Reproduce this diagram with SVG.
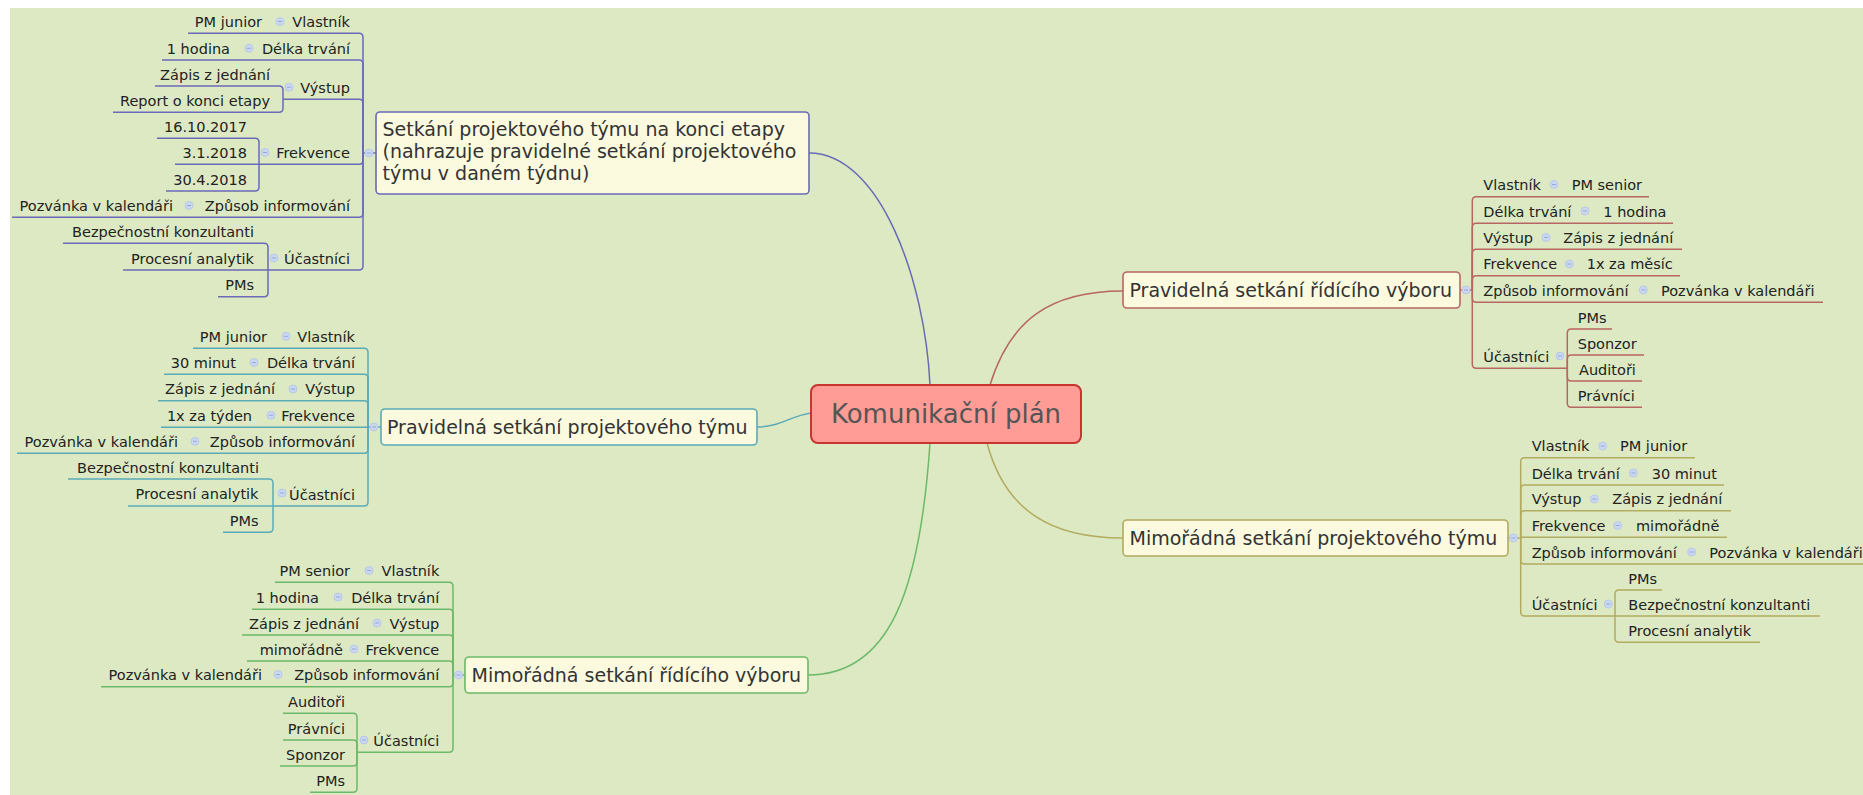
<svg xmlns="http://www.w3.org/2000/svg" width="1863" height="795" viewBox="0 0 1863 795">
  <style>
    text { font-family: "DejaVu Sans", Verdana, sans-serif; }
    .leaf { font-size: 14.5px; fill: #222; }
    .e { text-anchor: end; }
    .ttl { font-size: 19px; fill: #333; }
    .root { font-size: 26px; fill: #555; text-anchor: middle; }
    .box { fill: #fbfadf; stroke-width: 1.6; }
    .ln { fill: none; stroke-width: 1.5; }
    .blue { stroke: #6a6ab6; }
    .teal { stroke: #5aabb8; }
    .green { stroke: #6cb96a; }
    .red { stroke: #b86662; }
    .olive { stroke: #b3ab5f; }
  </style>
  <defs>
    <!-- collapse toggle shown next to every expanded item -->
    <g id="tog">
      <circle r="4" fill="#cbd7f1" stroke="#b2c3e8" stroke-width="0.8"/>
      <path d="M-2,0H2" stroke="#94a8d8" stroke-width="1"/>
    </g>
  </defs>

  <rect x="0" y="0" width="1863" height="795" fill="#ffffff"/>
  <rect x="10" y="8" width="1853" height="787" fill="#dce9c3"/>

  <g id="connectors">
    <!-- root to main topics -->
    <path class="ln blue" stroke-width="1.8" d="M930,385 C925,280 880,153 809,153"/>
    <path class="ln teal" stroke-width="1.8" d="M811,413 C790,416 780,427 757,427"/>
    <path class="ln green" stroke-width="1.8" d="M930,443 C920,590 890,675 808,675"/>
    <path class="ln red" stroke-width="1.8" d="M990,385 C1010,320 1050,291 1123,291"/>
    <path class="ln olive" stroke-width="1.8" d="M987,443 C1005,510 1050,538 1123,538"/>

    <!-- topic 1 tree -->
    <g class="ln blue">
      <path d="M376,153 H363"/>
      <path d="M363,153 V37.3 Q363,33.3 359,33.3 H188"/>
      <path d="M363,153 V64 Q363,60 359,60 H162"/>
      <path d="M363,153 V103.2 Q363,99.2 359,99.2 H283"/>
      <path d="M363,153 V160.3 Q363,164.3 359,164.3 H259"/>
      <path d="M363,153 V213.3 Q363,217.3 359,217.3 H12"/>
      <path d="M363,153 V266 Q363,270 359,270 H268"/>
      <path d="M283,99.2 V90 Q283,86 279,86 H155"/>
      <path d="M283,99.2 V108.3 Q283,112.3 279,112.3 H113"/>
      <path d="M259,164.3 V142.3 Q259,138.3 255,138.3 H157"/>
      <path d="M259,164.3 H175"/>
      <path d="M259,164.3 V187 Q259,191 255,191 H166"/>
      <path d="M268,270 V247.3 Q268,243.3 264,243.3 H63"/>
      <path d="M268,270 H123"/>
      <path d="M268,270 V292.7 Q268,296.7 264,296.7 H218"/>
    </g>

    <!-- topic 2 tree -->
    <g class="ln teal">
      <path d="M381,427 H368"/>
      <path d="M368,427 V352.3 Q368,348.3 364,348.3 H193"/>
      <path d="M368,427 V378.3 Q368,374.3 364,374.3 H164"/>
      <path d="M368,427 V404.7 Q368,400.7 364,400.7 H158"/>
      <path d="M368,427.3 H161"/>
      <path d="M368,427 V449.3 Q368,453.3 364,453.3 H17"/>
      <path d="M368,427 V502 Q368,506 364,506 H273"/>
      <path d="M273,506 V483 Q273,479 269,479 H68"/>
      <path d="M273,506 H128"/>
      <path d="M273,506 V528.3 Q273,532.3 269,532.3 H223"/>
    </g>

    <!-- topic 3 tree -->
    <g class="ln green">
      <path d="M465,675 H453"/>
      <path d="M453,675 V586.3 Q453,582.3 449,582.3 H275"/>
      <path d="M453,675 V613.3 Q453,609.3 449,609.3 H252"/>
      <path d="M453,675 V639 Q453,635 449,635 H242"/>
      <path d="M453,675 V665 Q453,661 449,661 H247"/>
      <path d="M453,675 V682.7 Q453,686.7 449,686.7 H101"/>
      <path d="M453,675 V748.3 Q453,752.3 449,752.3 H357"/>
      <path d="M357,752.3 V717.3 Q357,713.3 353,713.3 H283"/>
      <path d="M357,752.3 V744 Q357,740 353,740 H283"/>
      <path d="M357,752.3 V762 Q357,766 353,766 H280"/>
      <path d="M357,752.3 V788.3 Q357,792.3 353,792.3 H310"/>
    </g>

    <!-- topic 4 tree -->
    <g class="ln red">
      <path d="M1460,290 H1472.3"/>
      <path d="M1472.3,290 V200.7 Q1472.3,196.7 1476.3,196.7 H1649"/>
      <path d="M1472.3,290 V227.3 Q1472.3,223.3 1476.3,223.3 H1673"/>
      <path d="M1472.3,290 V253.3 Q1472.3,249.3 1476.3,249.3 H1682"/>
      <path d="M1472.3,290 V279.7 Q1472.3,275.7 1476.3,275.7 H1680"/>
      <path d="M1472.3,290 V298.3 Q1472.3,302.3 1476.3,302.3 H1823"/>
      <path d="M1472.3,290 V364.3 Q1472.3,368.3 1476.3,368.3 H1567.3"/>
      <path d="M1567.3,368.3 V333 Q1567.3,329 1571.3,329 H1612"/>
      <path d="M1567.3,368.3 V359 Q1567.3,355 1571.3,355 H1644"/>
      <path d="M1567.3,368.3 V377 Q1567.3,381 1571.3,381 H1642"/>
      <path d="M1567.3,368.3 V403.3 Q1567.3,407.3 1571.3,407.3 H1642"/>
    </g>

    <!-- topic 5 tree -->
    <g class="ln olive">
      <path d="M1508,538 H1520.7"/>
      <path d="M1520.7,538 V461.7 Q1520.7,457.7 1524.7,457.7 H1695"/>
      <path d="M1520.7,538 V489 Q1520.7,485 1524.7,485 H1724"/>
      <path d="M1520.7,538 V514.7 Q1520.7,510.7 1524.7,510.7 H1731"/>
      <path d="M1520.7,537.3 H1727"/>
      <path d="M1520.7,538 V560 Q1520.7,564 1524.7,564 H1870"/>
      <path d="M1520.7,538 V612 Q1520.7,616 1524.7,616 H1615"/>
      <path d="M1615,616 V594 Q1615,590 1619,590 H1662"/>
      <path d="M1615,616 H1820"/>
      <path d="M1615,616 V638.3 Q1615,642.3 1619,642.3 H1760"/>
    </g>
  </g>

  <g id="root">
    <rect x="811" y="385" width="270" height="58" rx="7" fill="#ff9c96" stroke="#c8352f" stroke-width="2"/>
    <text class="root" x="946" y="423">Komunikační plán</text>
  </g>

  <g id="topic-konec-etapy">
    <rect class="box blue" x="376" y="112" width="433" height="82" rx="4"/>
    <text class="ttl" x="382.5" y="136">Setkání projektového týmu na konci etapy</text>
    <text class="ttl" x="382.5" y="158">(nahrazuje pravidelné setkání projektového</text>
    <text class="ttl" x="382.5" y="180">týmu v daném týdnu)</text>
    <use href="#tog" x="369" y="153"/>
    <g class="leaf e">
      <text x="350" y="27">Vlastník</text>
      <text x="262" y="27">PM junior</text>
      <text x="350" y="53.7">Délka trvání</text>
      <text x="230" y="53.7">1 hodina</text>
      <text x="350" y="92.9">Výstup</text>
      <text x="270" y="79.7">Zápis z jednání</text>
      <text x="270" y="106">Report o konci etapy</text>
      <text x="350" y="158">Frekvence</text>
      <text x="247" y="132">16.10.2017</text>
      <text x="247" y="158">3.1.2018</text>
      <text x="247" y="184.7">30.4.2018</text>
      <text x="350" y="211">Způsob informování</text>
      <text x="173" y="211">Pozvánka v kalendáři</text>
      <text x="350" y="263.7">Účastníci</text>
      <text x="254" y="237">Bezpečnostní konzultanti</text>
      <text x="254" y="263.7">Procesní analytik</text>
      <text x="254" y="290.4">PMs</text>
    </g>
    <use href="#tog" x="280" y="21.5"/>
    <use href="#tog" x="249" y="48.3"/>
    <use href="#tog" x="289" y="87.2"/>
    <use href="#tog" x="265" y="152.5"/>
    <use href="#tog" x="189" y="205.5"/>
    <use href="#tog" x="274" y="258"/>
  </g>

  <g id="topic-projektovy-tym">
    <rect class="box teal" x="381" y="409" width="376" height="36" rx="4"/>
    <text class="ttl" x="387" y="433.5">Pravidelná setkání projektového týmu</text>
    <use href="#tog" x="374" y="427"/>
    <g class="leaf e">
      <text x="355" y="342">Vlastník</text>
      <text x="267" y="342">PM junior</text>
      <text x="355" y="368">Délka trvání</text>
      <text x="236" y="368">30 minut</text>
      <text x="355" y="394.4">Výstup</text>
      <text x="275" y="394.4">Zápis z jednání</text>
      <text x="355" y="421">Frekvence</text>
      <text x="252" y="421">1x za týden</text>
      <text x="355" y="447">Způsob informování</text>
      <text x="178" y="447">Pozvánka v kalendáři</text>
      <text x="355" y="499.7">Účastníci</text>
      <text x="259" y="472.7">Bezpečnostní konzultanti</text>
      <text x="258.5" y="499.4">Procesní analytik</text>
      <text x="258.5" y="526">PMs</text>
    </g>
    <use href="#tog" x="286" y="336.3"/>
    <use href="#tog" x="254" y="362.5"/>
    <use href="#tog" x="293" y="389"/>
    <use href="#tog" x="271" y="415.3"/>
    <use href="#tog" x="195" y="441.3"/>
    <use href="#tog" x="282" y="493"/>
  </g>

  <g id="topic-ridici-vybor-mimoradne">
    <rect class="box green" x="465" y="657" width="343" height="36" rx="4"/>
    <text class="ttl" x="471.5" y="681.5">Mimořádná setkání řídícího výboru</text>
    <use href="#tog" x="458.5" y="675"/>
    <g class="leaf e">
      <text x="439.3" y="576">Vlastník</text>
      <text x="350" y="576">PM senior</text>
      <text x="439.3" y="603">Délka trvání</text>
      <text x="319" y="603">1 hodina</text>
      <text x="439.3" y="628.7">Výstup</text>
      <text x="359" y="628.7">Zápis z jednání</text>
      <text x="439.3" y="654.7">Frekvence</text>
      <text x="343" y="654.7">mimořádně</text>
      <text x="439.3" y="680.4">Způsob informování</text>
      <text x="262" y="680.4">Pozvánka v kalendáři</text>
      <text x="439.3" y="746">Účastníci</text>
      <text x="345" y="707">Auditoři</text>
      <text x="345" y="733.7">Právníci</text>
      <text x="345" y="759.7">Sponzor</text>
      <text x="345" y="786">PMs</text>
    </g>
    <use href="#tog" x="369" y="570.5"/>
    <use href="#tog" x="338" y="597"/>
    <use href="#tog" x="377" y="623"/>
    <use href="#tog" x="354" y="649"/>
    <use href="#tog" x="278" y="674.5"/>
    <use href="#tog" x="364" y="740"/>
  </g>

  <g id="topic-ridici-vybor">
    <rect class="box red" x="1123" y="272" width="337" height="36" rx="4"/>
    <text class="ttl" x="1129.5" y="296.5">Pravidelná setkání řídícího výboru</text>
    <use href="#tog" x="1466" y="290"/>
    <g class="leaf">
      <text x="1483.3" y="190.4">Vlastník</text>
      <text x="1571.7" y="190.4">PM senior</text>
      <text x="1483.3" y="217">Délka trvání</text>
      <text x="1603.3" y="217">1 hodina</text>
      <text x="1483.3" y="243">Výstup</text>
      <text x="1563.3" y="243">Zápis z jednání</text>
      <text x="1483.3" y="269.4">Frekvence</text>
      <text x="1586.7" y="269.4">1x za měsíc</text>
      <text x="1483.3" y="296">Způsob informování</text>
      <text x="1661" y="296">Pozvánka v kalendáři</text>
      <text x="1483.3" y="362">Účastníci</text>
      <text x="1577.7" y="322.7">PMs</text>
      <text x="1577.7" y="348.7">Sponzor</text>
      <text x="1579" y="374.7">Auditoři</text>
      <text x="1577.7" y="401">Právníci</text>
    </g>
    <use href="#tog" x="1554" y="184.5"/>
    <use href="#tog" x="1585" y="211"/>
    <use href="#tog" x="1546" y="237.5"/>
    <use href="#tog" x="1569.3" y="264"/>
    <use href="#tog" x="1643.3" y="290"/>
    <use href="#tog" x="1560" y="356"/>
  </g>

  <g id="topic-projektovy-tym-mimoradne">
    <rect class="box olive" x="1123" y="520" width="385" height="36" rx="4"/>
    <text class="ttl" x="1129.5" y="544.5">Mimořádná setkání projektového týmu</text>
    <use href="#tog" x="1513.3" y="538"/>
    <g class="leaf">
      <text x="1531.7" y="451.4">Vlastník</text>
      <text x="1620" y="451.4">PM junior</text>
      <text x="1531.7" y="478.7">Délka trvání</text>
      <text x="1651.7" y="478.7">30 minut</text>
      <text x="1531.7" y="504.4">Výstup</text>
      <text x="1612.3" y="504.4">Zápis z jednání</text>
      <text x="1531.7" y="531">Frekvence</text>
      <text x="1636" y="531">mimořádně</text>
      <text x="1531.7" y="557.7">Způsob informování</text>
      <text x="1709.3" y="557.7">Pozvánka v kalendáři</text>
      <text x="1531.7" y="609.7">Účastníci</text>
      <text x="1628.3" y="583.7">PMs</text>
      <text x="1628.3" y="609.7">Bezpečnostní konzultanti</text>
      <text x="1628.3" y="636">Procesní analytik</text>
    </g>
    <use href="#tog" x="1602.7" y="446"/>
    <use href="#tog" x="1633.3" y="473"/>
    <use href="#tog" x="1594.3" y="499"/>
    <use href="#tog" x="1617.7" y="525.5"/>
    <use href="#tog" x="1691.7" y="552"/>
    <use href="#tog" x="1608.3" y="604"/>
  </g>
</svg>
